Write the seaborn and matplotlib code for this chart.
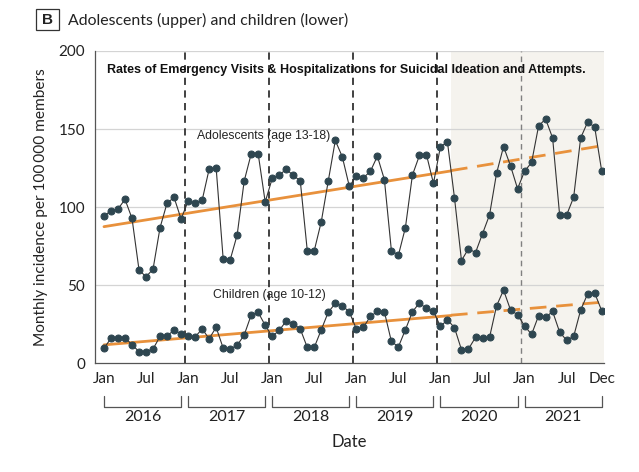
import numpy as np
import pandas as pd
import matplotlib
matplotlib.use("Agg")
import matplotlib.pyplot as plt
import seaborn as sns
from matplotlib.transforms import blended_transform_factory
from matplotlib.patches import Rectangle

# ---------------- data ----------------
years = [2016, 2017, 2018, 2019, 2020, 2021]

adolescents = [94.5, 97.5, 98.8, 105.0, 92.8, 59.8, 55.4, 60.3, 86.9, 102.6, 106.2, 92.4,
               103.9, 102.4, 104.3, 124.3, 125.2, 67.1, 66.2, 82.2, 116.7, 134.1, 134.1, 103.3,
               118.4, 120.5, 124.3, 120.3, 116.9, 72.2, 72.2, 90.7, 116.9, 142.7, 132.2, 113.3,
               119.9, 118.8, 122.9, 132.6, 117.7, 72.2, 69.2, 86.9, 120.5, 133.1, 133.7, 115.2,
               138.8, 141.6, 106.0, 65.8, 73.4, 70.9, 83.0, 95.0, 121.6, 138.8, 126.4, 111.8,
               123.0, 128.6, 152.0, 156.5, 144.3, 95.0, 95.0, 106.3, 144.3, 154.5, 151.3, 123.2]

children = [9.6, 16.0, 16.4, 16.4, 11.9, 7.5, 7.5, 9.2, 17.2, 17.7, 21.1, 19.0,
            17.2, 16.9, 22.0, 15.8, 23.0, 9.8, 9.2, 11.5, 18.1, 30.9, 32.6, 24.3,
            17.2, 21.1, 27.1, 25.4, 22.0, 10.2, 10.2, 21.5, 32.8, 38.3, 37.0, 32.8,
            22.0, 23.0, 30.0, 33.2, 33.0, 14.0, 10.5, 21.5, 33.0, 38.6, 35.1, 33.3,
            23.6, 27.9, 22.8, 8.7, 9.2, 16.6, 16.2, 16.6, 36.7, 46.9, 34.1, 31.1,
            23.9, 18.5, 30.5, 29.4, 33.2, 20.0, 14.7, 17.2, 34.1, 44.5, 45.0, 33.7]

# trend lines (pre-pandemic fit, solid; projection, dashed)
trend_solid_months = [0, 49.5]
trend_dash_months = [49.5, 71]
adol_trend_solid = [87.5, 123.2]
adol_trend_dash = [123.4, 139.3]
child_trend_solid = [11.8, 30.6]
child_trend_dash = [30.8, 39.1]

pandemic_start = 49.5          # shading start (month index)
tick_months = [0, 6, 12, 18, 24, 30, 36, 42, 48, 54, 60, 66, 71]
tick_labels = ["Jan", "Jul", "Jan", "Jul", "Jan", "Jul", "Jan", "Jul",
               "Jan", "Jul", "Jan", "Jul", "Dec"]

months = np.arange(len(adolescents))
df = pd.DataFrame({"month": np.concatenate([months, months]),
                   "value": adolescents + children,
                   "group": ["Adolescents"] * len(adolescents) + ["Children"] * len(children)})

# ---------------- style ----------------
sns.set_style("white")
plt.rcParams["font.family"] = ["Lato", "DejaVu Sans"]

W, H = 639, 472
fig = plt.figure(figsize=(W / 100, H / 100), dpi=100)
ax_left, ax_right, ax_top, ax_bottom = 95, 604, 51, 363.3
ax = fig.add_axes([ax_left / W, 1 - ax_bottom / H,
                   (ax_right - ax_left) / W, (ax_bottom - ax_top) / H])

xmin, xmax = -1.28, 71.33
ax.set_xlim(xmin, xmax)
ax.set_ylim(0, 200)

# shaded pandemic region
ax.axvspan(pandemic_start, xmax, color="#f5f3ee", zorder=0, lw=0)

# gridlines
for v in [50, 100, 150, 200]:
    ax.axhline(v, color="#d4d4d4", lw=0.9, zorder=0.5)

# year separators
for i in range(1, 6):
    xpos = 12 * i - 0.5
    if i < 5:
        ax.axvline(xpos, color="#333333", lw=1.3, dashes=(4, 3), zorder=1)
    else:
        ax.axvline(xpos, color="#808080", lw=1.0, dashes=(4, 3), zorder=1)

orange = "#E8913C"
for solid, dash in [(adol_trend_solid, adol_trend_dash), (child_trend_solid, child_trend_dash)]:
    sns.lineplot(x=trend_solid_months, y=solid, ax=ax, color=orange, lw=2.0, zorder=2)
    l = sns.lineplot(x=trend_dash_months, y=dash, ax=ax, color=orange, lw=2.0, zorder=2)
    l.lines[-1].set_dashes((6, 3.5))

sns.lineplot(data=df, x="month", y="value", units="group", estimator=None,
             color="#333333", lw=0.8, marker="o", markersize=5,
             markerfacecolor="#2e4650", markeredgecolor="#2e4650",
             ax=ax, zorder=3, legend=False)

# ---------------- axes ----------------
for s in ["top", "right"]:
    ax.spines[s].set_visible(False)
ax.spines["left"].set_color("#555555")
ax.spines["bottom"].set_color("#555555")
ax.spines["left"].set_linewidth(0.9)
ax.spines["bottom"].set_linewidth(0.9)

ax.set_yticks([0, 50, 100, 150, 200])
ax.set_yticklabels(["0", "50", "100", "150", "200"])
ax.set_xticks(tick_months)
ax.set_xticklabels(tick_labels)
ax.set_xticks(months, minor=True)
ax.tick_params(axis="both", which="both", direction="out", color="#555555",
               labelsize=11, labelcolor="#222222")
ax.tick_params(axis="x", which="both", length=4, width=0.7, pad=2.5)
ax.tick_params(axis="y", length=5, width=0.8, pad=2)

ax.set_xlabel("")
ax.set_ylabel("Monthly incidence per 100\u2009000 members", fontsize=11.1, color="#222222")
ax.yaxis.set_label_coords(-0.092, 0.5)

# year brackets
trans = blended_transform_factory(ax.transData, ax.transAxes)
y_top, y_bot, y_lab = -0.105, -0.14, -0.172
for i, yr in enumerate(years):
    x0, x1 = 12 * i, 12 * i + 11
    ax.plot([x0, x0, x1, x1], [y_top, y_bot, y_bot, y_top], transform=trans,
            color="#555555", lw=0.9, clip_on=False)
    ax.text((x0 + x1) / 2, y_lab, str(yr), transform=trans, ha="center", va="center",
            fontsize=11.5, color="#222222")

ax.text(0.5, -0.252, "Date", transform=ax.transAxes, ha="center", va="center",
        fontsize=12, color="#222222")

# inner title and series labels
ax.text(0.0236, 0.939,
        "Rates of Emergency Visits & Hospitalizations for Suicidal Ideation and Attempts.",
        transform=ax.transAxes, ha="left", va="center", fontsize=9.0, fontweight="bold",
        family=["Liberation Sans", "DejaVu Sans"], color="#111111", zorder=5)
ax.text(13.3, 145.5, "Adolescents (age 13-18)", ha="left", va="center", fontsize=8.8,
        family=["Liberation Sans", "DejaVu Sans"], color="#222222", zorder=5)
ax.text(15.5, 43.6, "Children (age 10-12)", ha="left", va="center", fontsize=8.8,
        family=["Liberation Sans", "DejaVu Sans"], color="#222222", zorder=5)

# panel title
fig.text(47.5 / W, 1 - 19.5 / H, "B", ha="center", va="center", fontsize=11,
         fontweight="bold", family=["Liberation Sans", "DejaVu Sans"], color="#222222")
fig.patches.append(Rectangle((36 / W, 1 - 30 / H), 23 / W, 21 / H, transform=fig.transFigure,
                             fill=False, edgecolor="#333333", lw=0.9))
fig.text(67.7 / W, 1 - 20 / H, "Adolescents (upper) and children (lower)", ha="left",
         va="center", fontsize=11.4, color="#222222")

fig.savefig("out.png", dpi=100)
